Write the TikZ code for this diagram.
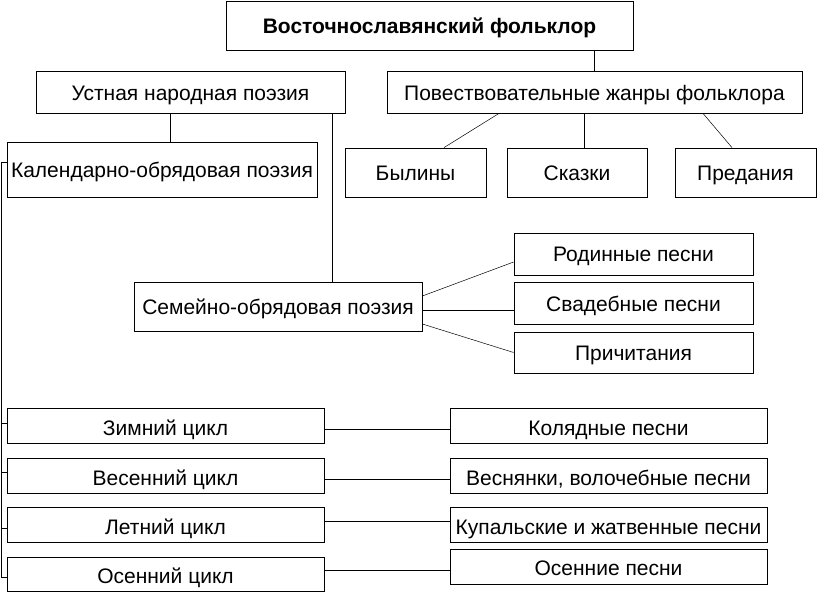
\documentclass[tikz,border=0pt]{standalone}
\usepackage{fontspec}
\setmainfont{Liberation Sans}
\usepackage{tikz}
\usetikzlibrary{positioning}
\tikzset{
    cell/.style = {rectangle, draw=black, line width=0.8pt, inner sep=0pt, fill=white, text depth=0pt, text height=17pt, font=\fontsize{21}{25}\selectfont},
    cellb/.style = {cell, font=\fontsize{21}{25}\selectfont\bfseries},
    cellc/.style = {cell, text height=19.4pt}, % cycles, text a bit lower
    edgen/.style = {draw=black, line width=0.8pt},
    edged/.style = {draw=black, line width=0.5pt}, % slanted
}

\begin{document}
\begin{tikzpicture}[x=1pt, y=-1pt]
  \useasboundingbox (0,0) rectangle (817,612);

  \node[cellb, minimum width=407pt, minimum height=49pt] at (429.5,25.5) (top) {Восточнославянский фольклор};

  \node[cell, minimum width=309pt, minimum height=42pt] at (190.5,92) (ustn) {Устная народная поэзия};
  \node[cell, minimum width=415pt, minimum height=42pt] at (594.5,92) (povest) {Повествовательные жанры фольклора};

  \node[cell, minimum width=310pt, minimum height=55pt] at (162,169.5) (kalend) {Календарно-обрядовая поэзия};
  \node[cell, minimum width=141pt, minimum height=49pt] at (415.5,172.5) (byl) {Былины};
  \node[cell, minimum width=140pt, minimum height=49pt] at (577,172.5) (skaz) {Сказки};
  \node[cell, minimum width=141pt, minimum height=49pt] at (745.5,172.5) (pred) {Предания};

  \node[cell, minimum width=288pt, minimum height=49pt] at (278,306.5) (semey) {Семейно-обрядовая поэзия};
  \node[cell, minimum width=239pt, minimum height=42pt, text height=15pt] at (633.5,254) (rodin) {Родинные песни};
  \node[cell, minimum width=239pt, minimum height=42pt, text height=16.4pt] at (633.5,303) (svad) {Свадебные песни};
  \node[cell, minimum width=239pt, minimum height=41pt] at (633.5,352.5) (prich) {Причитания};

  \node[cellc, minimum width=317pt, minimum height=35pt] at (165.5,425.5) (zim) {Зимний цикл};
  \node[cellc, minimum width=317pt, minimum height=35pt] at (165.5,475.5) (vesen) {Весенний цикл};
  \node[cellc, minimum width=317pt, minimum height=35pt] at (165.5,524.5) (let) {Летний цикл};
  \node[cellc, minimum width=317pt, minimum height=34pt] at (165.5,574) (osen) {Осенний цикл};

  \node[cellc, minimum width=317pt, minimum height=35pt] at (608.5,425.5) (kol) {Колядные песни};
  \node[cellc, minimum width=317pt, minimum height=35pt] at (608.5,475.5) (vesn) {Веснянки, волочебные песни};
  \node[cellc, minimum width=317pt, minimum height=35pt] at (608.5,524.5) (kup) {Купальские и жатвенные песни};
  \node[cell, minimum width=317pt, minimum height=35pt] at (608.5,566.5) (osp) {Осенние песни};

  % upper links
  \draw[edgen] (povest.north) -- (povest.north |- top.south);
  \draw[edgen] ([xshift=8pt]kalend.north) -- ([xshift=8pt]kalend.north |- ustn.south);
  \draw[edgen] ([xshift=54pt]semey.north) -- ([xshift=54pt]semey.north |- ustn.south);
  \draw[edged] ([xshift=-95.5pt]povest.south) -- ([xshift=28.5pt]byl.north);
  \draw[edgen] ([xshift=7pt]skaz.north) -- ([xshift=7pt]skaz.north |- povest.south);
  \draw[edged] ([xshift=108.5pt]povest.south) -- ([xshift=-13.5pt]pred.north);

  % family rites
  \draw[edged] ([yshift=10.5pt]semey.east) -- ([yshift=-8pt]rodin.west);
  \draw[edgen] ([yshift=-3.5pt]semey.east) -- ([yshift=-3.5pt]semey.east -| svad.west);
  \draw[edged] ([yshift=-17.5pt]semey.east) -- (prich.west);

  % calendar cycles
  \draw[edgen] ([yshift=7.5pt]kalend.west) -- ++(-5pt,0) coordinate (spine) |- ([yshift=-3pt]osen.west);
  \draw[edgen] ([yshift=2.5pt]zim.west) -- ++(-5pt,0);
  \draw[edgen] ([yshift=3.5pt]vesen.west) -- ++(-5pt,0);
  \draw[edgen] ([yshift=-3.5pt]let.west) -- ++(-5pt,0);

  \draw[edgen] ([yshift=-3.5pt]zim.east) -- ([yshift=-3.5pt]zim.east -| kol.west);
  \draw[edgen] ([yshift=-3.5pt]vesen.east) -- ([yshift=-3.5pt]vesen.east -| vesn.west);
  \draw[edgen] ([yshift=3.5pt]let.east) -- ([yshift=3.5pt]let.east -| kup.west);
  \draw[edgen] ([yshift=4pt]osen.east) -- ([yshift=4pt]osen.east -| osp.west);
\end{tikzpicture}
\end{document}
